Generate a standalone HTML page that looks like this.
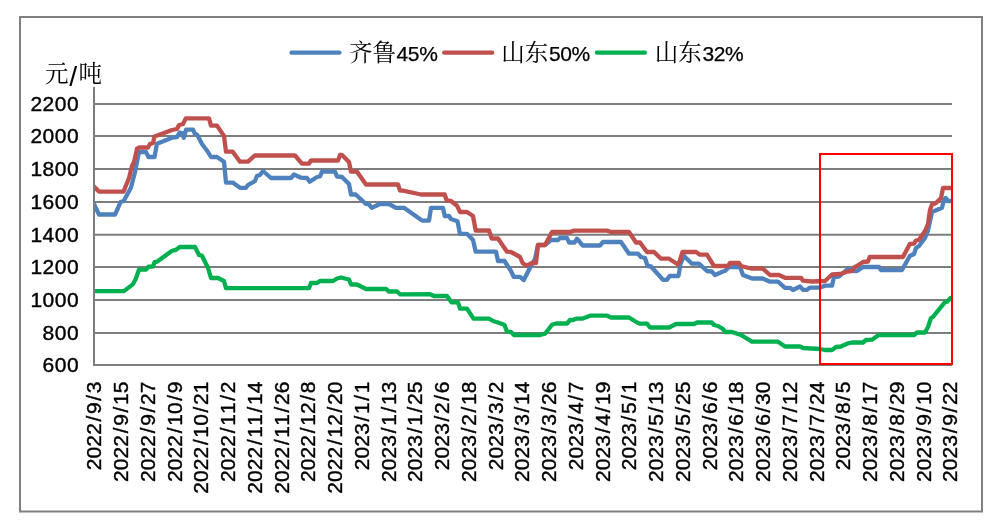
<!DOCTYPE html>
<html lang="zh-CN">
<head>
<meta charset="utf-8">
<title>价格走势</title>
<style>
html,body{margin:0;padding:0;background:#fff;}
body{width:1002px;height:529px;overflow:hidden;}
svg{display:block;}
.num{font-family:"Liberation Sans",sans-serif;fill:#000;}
.cjk{font-family:"Noto Serif CJK SC","Noto Sans CJK SC",serif;fill:#000;}
</style>
</head>
<body>
<svg width="1002" height="529" viewBox="0 0 1002 529">
<rect x="0" y="0" width="1002" height="529" fill="#ffffff"/>
<rect x="20" y="17" width="962" height="494.5" fill="none" stroke="#808080" stroke-width="2"/>
<g stroke="#7d7d7d" stroke-width="2" fill="none">
<line x1="94.0" y1="104.00" x2="952.0" y2="104.00"/>
<line x1="94.0" y1="136.00" x2="952.0" y2="136.00"/>
<line x1="94.0" y1="169.00" x2="952.0" y2="169.00"/>
<line x1="94.0" y1="202.00" x2="952.0" y2="202.00"/>
<line x1="94.0" y1="234.80" x2="952.0" y2="234.80"/>
<line x1="94.0" y1="267.00" x2="952.0" y2="267.00"/>
<line x1="94.0" y1="300.00" x2="952.0" y2="300.00"/>
<line x1="94.0" y1="333.00" x2="952.0" y2="333.00"/>
<line x1="94.0" y1="365.00" x2="952.0" y2="365.00"/>
</g>
<g class="num" font-size="21.0" text-anchor="end" stroke="#000" stroke-width="0.4">
<text x="79.3" y="111.10" letter-spacing="0.55">2200</text>
<text x="79.3" y="143.10" letter-spacing="0.55">2000</text>
<text x="79.3" y="176.10" letter-spacing="0.55">1800</text>
<text x="79.3" y="209.10" letter-spacing="0.55">1600</text>
<text x="79.3" y="241.90" letter-spacing="0.55">1400</text>
<text x="79.3" y="274.10" letter-spacing="0.55">1200</text>
<text x="79.3" y="307.10" letter-spacing="0.55">1000</text>
<text x="79.3" y="340.10" letter-spacing="0.55">800</text>
<text x="79.3" y="372.10" letter-spacing="0.55">600</text>
</g>
<text class="cjk" font-size="23.6"><tspan x="45.1" y="82.4">元</tspan><tspan class="num" font-size="28.4" x="69.3" y="85.6">/</tspan><tspan x="78.6" y="82.4">吨</tspan></text>
<defs><clipPath id="plotclip"><rect x="94" y="90" width="858" height="290"/></clipPath></defs>
<g clip-path="url(#plotclip)">
<polyline fill="none" stroke="#4F81BD" stroke-width="4.3" stroke-linejoin="round" stroke-linecap="round" points="94,204.3 99,214.5 115,214.5 118,208 120.5,202 123.7,201 131,187.5 135,172 137,162 139,152 146,152 148.5,157 154.5,157 157,143.7 172,137.7 177,137 179.8,132.5 182,133 183.8,137.7 186,129.7 193,129.7 195,134 197,134.5 202,144 208,152 211,157 217,157 224,161.7 226,182.6 232.7,182.6 240,187.8 246,187.8 248,185 255,181 257,175.8 260,175 263,171 271,178 291,178 294,174.5 301,177.7 307,178 309.7,181.7 317,177 320,176.5 322,171.7 335,171.7 337,176.5 342,177 349,184 351,194.5 355.7,194.5 366,204 369,204.5 371.8,207.8 380,204 389,204 396,207.8 404,207.8 422,220.6 429,220.6 431,207.8 443,207.8 444.7,216 449,216 451,219 457.5,221.3 460,233.8 467,233.8 473,240 475.7,251.7 496,251.7 498,261 504.5,261 511,271 513.7,276.8 520,276.8 523.8,280 531,265.7 535,259 538,245 545,245 551,240 558,240 560,238 567,238 569,242.5 574.5,242.5 577,238.7 582.7,245.5 600,245.5 603,242 621,242 629,253.7 638,253.7 641,257 645,258 647.6,266 651,266.5 663,279.8 667,279.8 669.7,276 678.5,276 680.5,264 684,256 692,263.7 699,263.7 707,271 711.8,271.5 715,275 723,271.5 725,271 729,267 740,267 743,275 752,278.5 762.7,278.5 770,281.7 778,281.7 785,287.8 790,287.8 793,290 800,286.5 803,289.8 807,289.8 810,287.6 820,287.6 825,285.7 832,285.7 834,277 839,276.5 847,269.5 852,269 854,271 857,271 863,267 879,267 881,270 902,270 909.8,256 914,254 916,248 919,246 925,238 928,230.5 930,221 932,212 942,207.7 943.9,200 945.7,198 948,201 951,201"/>
<polyline fill="none" stroke="#C0504D" stroke-width="4.3" stroke-linejoin="round" stroke-linecap="round" points="94,186.6 99,191.6 123.5,191.6 129,178 132,166 134,162 137,148.7 139,147.5 148,147.5 150,144 153,143 154.5,136.5 172,130 177,129 179,125 183,124 185.8,118.4 209,118.4 211,125.6 217,125.6 224,136 226,151.7 232.7,151.7 240,161.7 248,161.7 255,155.3 295,155.5 302,163.7 309,163.7 311,160.5 338,160.5 340,155 342,155 349,162 351,171.7 357,171.7 366,184.5 398,184.5 400,190.7 403,190.7 421,194.5 444.7,194.5 446.7,200.5 451,201 457,205.7 460,212 467,212 473,216 475.7,230.5 489,230.5 491.7,238.5 498,238.5 507,251.7 511,252 520,257 522.6,263 526.6,265.7 532,263 536,263 538,245 545,245 552,232 570,232 574,230.6 607,230.6 611,232 629,232 636,242.5 640,242.5 647,252 654,252 661,258.7 669,258.7 678,264.5 680,260 682.5,252 696,252 700,254.7 707,254.7 714,266 728,266 730,263 739,263 741,266 751,268.5 762.7,268.5 770,275 779,275 785,277.8 801,277.8 803,280.7 812,281.5 825,281 832,274.5 840,274 847,271.7 852,271 854,267.5 856,266.5 863,262 868,261.5 869.7,257 903,257 909.8,244 914,243.7 916,240.5 919,239.8 925,231 928,224 930,210 932,204.5 936,203 941,198 943,188 951,188"/>
<polyline fill="none" stroke="#00B050" stroke-width="4.3" stroke-linejoin="round" stroke-linecap="round" points="94,291.1 124,291.1 133,284.1 135.7,279.1 139,269.7 146,269.7 148.5,266.7 153,266.5 154.5,262.2 157,261.7 172,250.8 176,249.8 179.8,247 195,247 199,255 202,255.7 208,268 211,278 218,278 224,281 226,288.1 309,288.1 311,283 317,283 320,281 333,281 337,278.5 341,277.5 349,279.5 351,284.5 357,284.5 366,289 386,289 389,291.5 397,291.5 400,294.3 430,294.2 434,296 447,296 451.5,302.3 458,302.3 460,308.7 467,308.7 473.5,318.7 489,318.7 493,321 498,322.5 504.5,325 507,331.7 511,332 514,335 540,335 545,333.7 552,324.7 556,323.5 567,323.5 570,320 573,320 576,318.7 582.7,318.5 590,315.7 607,315.7 611,317.5 629,317.5 637,322.5 640,323.7 647,323.7 650,327.5 669,327.5 676,324 694,324 697,322.5 711.8,322.5 714,325 718,326 723,329 725,332 732,332 741,335 752,341.7 778,341.7 785,346.5 800,346.5 803,348 820,349 825,350 832,350 836,347 841,346.5 847,343.7 852,342.5 863,342.5 866,340 872,339.7 879,334.8 914,335 917,332.5 925,332.5 928,327 931,318 933,316.8 945,302.2 947,301.7 950.5,298"/>
</g>
<line x1="94.0" y1="87" x2="94.0" y2="366.00" stroke="#7d7d7d" stroke-width="2"/>
<rect x="820" y="154" width="132" height="210" fill="none" stroke="#FF0000" stroke-width="2"/>
<line x1="291.55" y1="52.7" x2="339.45" y2="52.7" stroke="#4F81BD" stroke-width="4.3" stroke-linecap="round"/>
<text x="349" y="60.5"><tspan class="cjk" font-size="23.5">齐鲁</tspan><tspan class="num" font-size="21" dx="0.6" letter-spacing="-0.4" stroke="#000" stroke-width="0.25">45%</tspan></text>
<line x1="444.15" y1="52.7" x2="492.25" y2="52.7" stroke="#C0504D" stroke-width="4.3" stroke-linecap="round"/>
<text x="501.3" y="60.5"><tspan class="cjk" font-size="23.5">山东</tspan><tspan class="num" font-size="21" dx="0.6" letter-spacing="-0.4" stroke="#000" stroke-width="0.25">50%</tspan></text>
<line x1="596.95" y1="52.7" x2="644.95" y2="52.7" stroke="#00B050" stroke-width="4.3" stroke-linecap="round"/>
<text x="654.8" y="60.5"><tspan class="cjk" font-size="23.5">山东</tspan><tspan class="num" font-size="21" dx="0.6" letter-spacing="-0.4" stroke="#000" stroke-width="0.25">32%</tspan></text>
<g class="num" font-size="21.0" stroke="#000" stroke-width="0.4">
<text transform="translate(101.40 381.5) rotate(-90)" x="-88.74 -76.94 -65.14 -53.34 -40.02 -32.54 -19.22 -11.74" y="0">2022/9/3</text>
<text transform="translate(128.15 381.5) rotate(-90)" x="-100.54 -88.74 -76.94 -65.14 -51.82 -44.34 -31.02 -23.54 -11.74" y="0">2022/9/15</text>
<text transform="translate(154.90 381.5) rotate(-90)" x="-100.54 -88.74 -76.94 -65.14 -51.82 -44.34 -31.02 -23.54 -11.74" y="0">2022/9/27</text>
<text transform="translate(181.65 381.5) rotate(-90)" x="-100.54 -88.74 -76.94 -65.14 -51.82 -44.34 -32.54 -19.22 -11.74" y="0">2022/10/9</text>
<text transform="translate(208.40 381.5) rotate(-90)" x="-112.34 -100.54 -88.74 -76.94 -63.62 -56.14 -44.34 -31.02 -23.54 -11.74" y="0">2022/10/21</text>
<text transform="translate(235.15 381.5) rotate(-90)" x="-100.54 -88.74 -76.94 -65.14 -51.82 -44.34 -32.54 -19.22 -11.74" y="0">2022/11/2</text>
<text transform="translate(261.90 381.5) rotate(-90)" x="-112.34 -100.54 -88.74 -76.94 -63.62 -56.14 -44.34 -31.02 -23.54 -11.74" y="0">2022/11/14</text>
<text transform="translate(288.65 381.5) rotate(-90)" x="-112.34 -100.54 -88.74 -76.94 -63.62 -56.14 -44.34 -31.02 -23.54 -11.74" y="0">2022/11/26</text>
<text transform="translate(315.40 381.5) rotate(-90)" x="-100.54 -88.74 -76.94 -65.14 -51.82 -44.34 -32.54 -19.22 -11.74" y="0">2022/12/8</text>
<text transform="translate(342.15 381.5) rotate(-90)" x="-112.34 -100.54 -88.74 -76.94 -63.62 -56.14 -44.34 -31.02 -23.54 -11.74" y="0">2022/12/20</text>
<text transform="translate(368.90 381.5) rotate(-90)" x="-88.74 -76.94 -65.14 -53.34 -40.02 -32.54 -19.22 -11.74" y="0">2023/1/1</text>
<text transform="translate(395.65 381.5) rotate(-90)" x="-100.54 -88.74 -76.94 -65.14 -51.82 -44.34 -31.02 -23.54 -11.74" y="0">2023/1/13</text>
<text transform="translate(422.40 381.5) rotate(-90)" x="-100.54 -88.74 -76.94 -65.14 -51.82 -44.34 -31.02 -23.54 -11.74" y="0">2023/1/25</text>
<text transform="translate(449.15 381.5) rotate(-90)" x="-88.74 -76.94 -65.14 -53.34 -40.02 -32.54 -19.22 -11.74" y="0">2023/2/6</text>
<text transform="translate(475.90 381.5) rotate(-90)" x="-100.54 -88.74 -76.94 -65.14 -51.82 -44.34 -31.02 -23.54 -11.74" y="0">2023/2/18</text>
<text transform="translate(502.65 381.5) rotate(-90)" x="-88.74 -76.94 -65.14 -53.34 -40.02 -32.54 -19.22 -11.74" y="0">2023/3/2</text>
<text transform="translate(529.40 381.5) rotate(-90)" x="-100.54 -88.74 -76.94 -65.14 -51.82 -44.34 -31.02 -23.54 -11.74" y="0">2023/3/14</text>
<text transform="translate(556.15 381.5) rotate(-90)" x="-100.54 -88.74 -76.94 -65.14 -51.82 -44.34 -31.02 -23.54 -11.74" y="0">2023/3/26</text>
<text transform="translate(582.90 381.5) rotate(-90)" x="-88.74 -76.94 -65.14 -53.34 -40.02 -32.54 -19.22 -11.74" y="0">2023/4/7</text>
<text transform="translate(609.65 381.5) rotate(-90)" x="-100.54 -88.74 -76.94 -65.14 -51.82 -44.34 -31.02 -23.54 -11.74" y="0">2023/4/19</text>
<text transform="translate(636.40 381.5) rotate(-90)" x="-88.74 -76.94 -65.14 -53.34 -40.02 -32.54 -19.22 -11.74" y="0">2023/5/1</text>
<text transform="translate(663.15 381.5) rotate(-90)" x="-100.54 -88.74 -76.94 -65.14 -51.82 -44.34 -31.02 -23.54 -11.74" y="0">2023/5/13</text>
<text transform="translate(689.90 381.5) rotate(-90)" x="-100.54 -88.74 -76.94 -65.14 -51.82 -44.34 -31.02 -23.54 -11.74" y="0">2023/5/25</text>
<text transform="translate(716.65 381.5) rotate(-90)" x="-88.74 -76.94 -65.14 -53.34 -40.02 -32.54 -19.22 -11.74" y="0">2023/6/6</text>
<text transform="translate(743.40 381.5) rotate(-90)" x="-100.54 -88.74 -76.94 -65.14 -51.82 -44.34 -31.02 -23.54 -11.74" y="0">2023/6/18</text>
<text transform="translate(770.15 381.5) rotate(-90)" x="-100.54 -88.74 -76.94 -65.14 -51.82 -44.34 -31.02 -23.54 -11.74" y="0">2023/6/30</text>
<text transform="translate(796.90 381.5) rotate(-90)" x="-100.54 -88.74 -76.94 -65.14 -51.82 -44.34 -31.02 -23.54 -11.74" y="0">2023/7/12</text>
<text transform="translate(823.65 381.5) rotate(-90)" x="-100.54 -88.74 -76.94 -65.14 -51.82 -44.34 -31.02 -23.54 -11.74" y="0">2023/7/24</text>
<text transform="translate(850.40 381.5) rotate(-90)" x="-88.74 -76.94 -65.14 -53.34 -40.02 -32.54 -19.22 -11.74" y="0">2023/8/5</text>
<text transform="translate(877.15 381.5) rotate(-90)" x="-100.54 -88.74 -76.94 -65.14 -51.82 -44.34 -31.02 -23.54 -11.74" y="0">2023/8/17</text>
<text transform="translate(903.90 381.5) rotate(-90)" x="-100.54 -88.74 -76.94 -65.14 -51.82 -44.34 -31.02 -23.54 -11.74" y="0">2023/8/29</text>
<text transform="translate(930.65 381.5) rotate(-90)" x="-100.54 -88.74 -76.94 -65.14 -51.82 -44.34 -31.02 -23.54 -11.74" y="0">2023/9/10</text>
<text transform="translate(957.40 381.5) rotate(-90)" x="-100.54 -88.74 -76.94 -65.14 -51.82 -44.34 -31.02 -23.54 -11.74" y="0">2023/9/22</text>
</g>
</svg>
</body>
</html>
